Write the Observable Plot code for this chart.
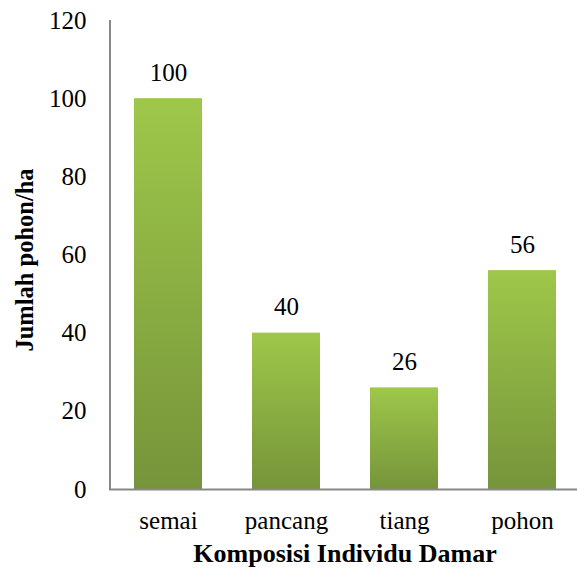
<!DOCTYPE html>
<html>
<head>
<meta charset="utf-8">
<script src="https://cdn.jsdelivr.net/npm/d3@7"></script>
<script src="https://cdn.jsdelivr.net/npm/@observablehq/plot@0.6"></script>
<style>
  html, body { margin: 0; padding: 0; background: #fff; }
</style>
</head>
<body>
<div id="chart"></div>
<script>
const categories = ["semai", "pancang", "tiang", "pohon"];
const values = [100, 40, 26, 56];
const yTicks = [0, 20, 40, 60, 80, 100, 120];
const xTitle = "Komposisi Individu Damar";
const yTitle = "Jumlah pohon/ha";

const data = categories.map((c, i) => ({ cat: c, value: values[i] }));
const font = "Liberation Serif";
const axisColor = "#888888";
const svgNS = "http://www.w3.org/2000/svg";

const chart = Plot.plot({
  width: 577,
  height: 571,
  marginTop: 20,
  marginBottom: 82,
  marginLeft: 109,
  marginRight: 0,
  style: { fontFamily: font, fontSize: "25px", color: "#000", background: "#fff", overflow: "visible" },
  x: { domain: categories, range: [109, 581], paddingInner: 0.42, paddingOuter: 0.21, label: null },
  y: { domain: [0, 120], label: null },
  marks: [
    Plot.barY(data, {
      x: "cat", y: "value", fill: "url(#barGrad)",
      style: { filter: "drop-shadow(2px 2px 2px rgba(0,0,0,0.25))" }
    }),
    Plot.text(data, {
      x: "cat", y: "value", text: d => String(d.value),
      dy: -26, fontSize: 25, fill: "#000"
    }),
    Plot.axisY({ ticks: yTicks, tickSize: 0, tickPadding: 23, fontSize: 25, label: null }),
    Plot.axisX({ tickSize: 0, tickPadding: 22, fontSize: 25, label: null }),
    Plot.ruleY([0], { stroke: axisColor, strokeWidth: 2 })
  ]
});

const defs = document.createElementNS(svgNS, "defs");
defs.innerHTML = `<linearGradient id="barGrad" x1="0" y1="0" x2="0" y2="1">
  <stop offset="0" stop-color="#9ec74a"/>
  <stop offset="1" stop-color="#76943a"/>
</linearGradient>`;
chart.insertBefore(defs, chart.firstChild);

// left axis line, positioned through the chart's own y scale
const ys = chart.scale("y");
const yLine = document.createElementNS(svgNS, "line");
yLine.setAttribute("x1", 110);
yLine.setAttribute("x2", 110);
yLine.setAttribute("y1", ys.apply(yTicks[0]) + 1);
yLine.setAttribute("y2", ys.apply(yTicks[yTicks.length - 1]));
yLine.setAttribute("stroke", axisColor);
yLine.setAttribute("stroke-width", 2);
chart.appendChild(yLine);

const yT = document.createElementNS(svgNS, "text");
yT.setAttribute("transform", "translate(27,260) rotate(-90)");
yT.setAttribute("text-anchor", "middle");
yT.setAttribute("dominant-baseline", "middle");
yT.setAttribute("font-weight", "bold");
yT.setAttribute("font-size", "24.5");
yT.textContent = yTitle;
chart.appendChild(yT);

const xT = document.createElementNS(svgNS, "text");
xT.setAttribute("x", 345);
xT.setAttribute("y", 556);
xT.setAttribute("text-anchor", "middle");
xT.setAttribute("dominant-baseline", "middle");
xT.setAttribute("font-weight", "bold");
xT.setAttribute("font-size", "26");
xT.textContent = xTitle;
chart.appendChild(xT);

chart.style.fontFamily = font;
chart.querySelectorAll("text, g").forEach(el => {
  el.style.fontFamily = font;
  el.setAttribute("font-family", font);
});

document.getElementById("chart").appendChild(chart);
</script>
</body>
</html>
